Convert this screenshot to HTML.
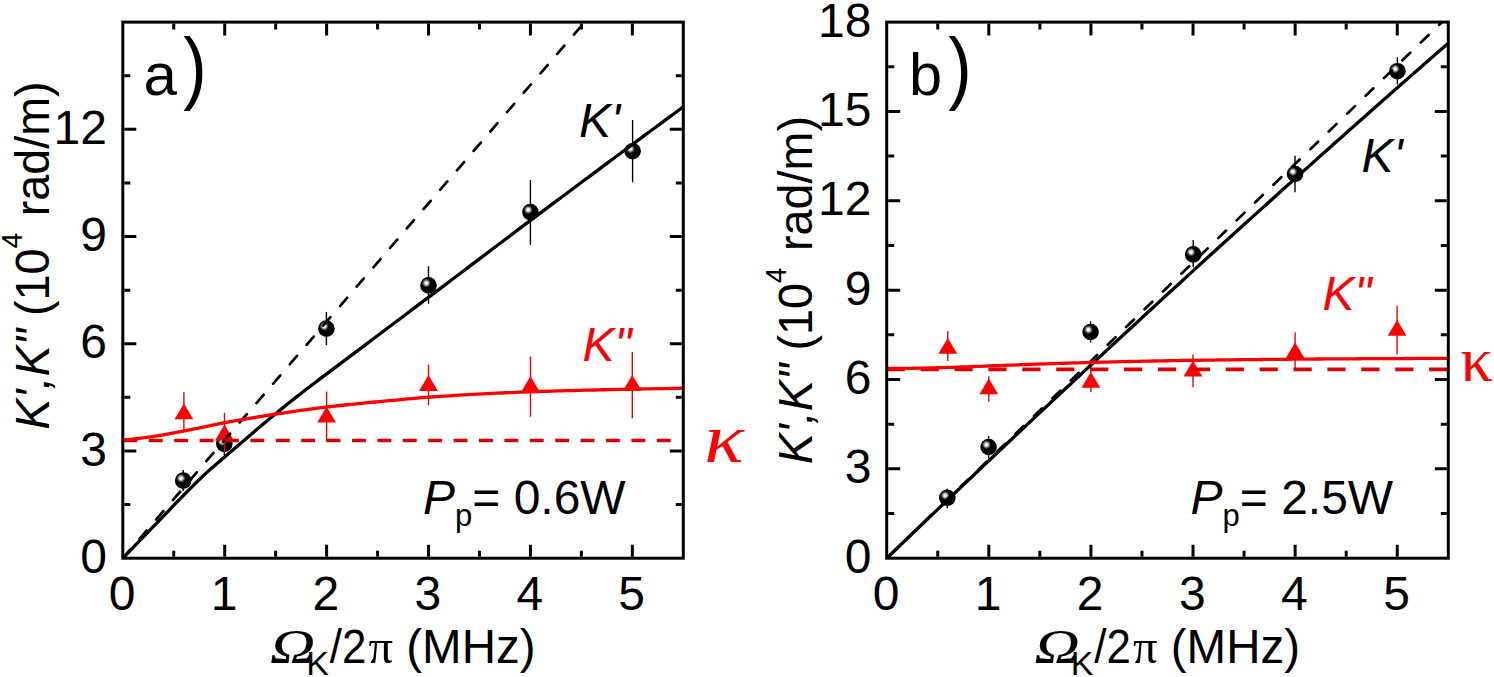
<!DOCTYPE html>
<html lang="en"><head><meta charset="utf-8"><title>K', K'' versus modulation frequency</title>
<style>html,body{margin:0;padding:0;background:#fff}svg{display:block}text{font-family:"Liberation Sans", sans-serif;fill:#000}.it{font-style:italic}.ser{font-family:"Liberation Serif", serif}.red{fill:#ff0000}</style>
</head><body>
<svg width="1494" height="677" viewBox="0 0 1494 677">
<defs><radialGradient id="sph" cx="0.37" cy="0.36" r="0.27"><stop offset="0" stop-color="#ffffff"/><stop offset="0.3" stop-color="#f2f2f2"/><stop offset="0.65" stop-color="#6e6e6e"/><stop offset="1" stop-color="#000000"/></radialGradient><clipPath id="ca"><rect x="122.8" y="22.1" width="560.5" height="536.1"/></clipPath><clipPath id="cb"><rect x="886.7" y="22.1" width="561.6" height="536.1"/></clipPath></defs>
<rect width="1494" height="677" fill="#fff"/>
<g clip-path="url(#ca)">
<path d="M183.2 470.1V491" stroke="#000" stroke-width="1.4" fill="none"/>
<path d="M224.3 433V455" stroke="#000" stroke-width="1.4" fill="none"/>
<path d="M326.4 311.9V345.1" stroke="#000" stroke-width="1.4" fill="none"/>
<path d="M428.5 266.2V303.8" stroke="#000" stroke-width="1.4" fill="none"/>
<path d="M530.4 179.9V245" stroke="#000" stroke-width="1.4" fill="none"/>
<path d="M632.6 120V182.3" stroke="#000" stroke-width="1.4" fill="none"/>
<circle cx="183.2" cy="480.6" r="8.3" fill="url(#sph)"/>
<circle cx="224.3" cy="443.9" r="8.3" fill="url(#sph)"/>
<circle cx="326.4" cy="328.6" r="8.3" fill="url(#sph)"/>
<circle cx="428.5" cy="285.4" r="8.3" fill="url(#sph)"/>
<circle cx="530.4" cy="212.1" r="8.3" fill="url(#sph)"/>
<circle cx="632.6" cy="151.2" r="8.3" fill="url(#sph)"/>
<path d="M183.9 392.3V430.6" stroke="#ea0000" stroke-width="1.4" fill="none"/>
<path d="M224.5 412.9V451.7" stroke="#ea0000" stroke-width="1.4" fill="none"/>
<path d="M326.6 391.6V441.5" stroke="#ea0000" stroke-width="1.4" fill="none"/>
<path d="M428.5 364.5V405.2" stroke="#ea0000" stroke-width="1.4" fill="none"/>
<path d="M530.5 356.4V416.7" stroke="#ea0000" stroke-width="1.4" fill="none"/>
<path d="M632.3 352V418.3" stroke="#ea0000" stroke-width="1.4" fill="none"/>
<path d="M183.9 403.5L193.3 419.3L174.5 419.3Z" fill="#ff0000"/>
<path d="M224.5 424.6L233.9 440.4L215.1 440.4Z" fill="#ff0000"/>
<path d="M326.6 406.7L336 422.5L317.2 422.5Z" fill="#ff0000"/>
<path d="M428.5 375.1L437.9 390.9L419.1 390.9Z" fill="#ff0000"/>
<path d="M530.5 376.3L539.9 392.1L521.1 392.1Z" fill="#ff0000"/>
<path d="M632.3 374.9L641.7 390.7L622.9 390.7Z" fill="#ff0000"/>
<path d="M122.8 558.2L591.58 14.02" stroke="#000" stroke-width="2.7" stroke-dasharray="10.9 14.7" stroke-dashoffset="0" stroke-linecap="round" fill="none"/>
<path d="M122.8 440.5H683.3" stroke="#dc0000" stroke-width="3.3" stroke-dasharray="13.9 11.5" stroke-dashoffset="-0.6" fill="none"/>
<polyline points="122.8,558.2 127.47,553.37 132.14,548.54 136.81,543.7 141.48,538.87 146.15,534.04 150.82,529.21 155.5,524.37 160.17,519.51 164.84,514.64 169.51,509.78 174.18,504.94 178.85,500.13 183.52,495.37 188.19,490.64 192.86,485.92 197.53,481.27 202.2,476.74 206.88,472.41 211.55,468.23 216.22,464.17 220.89,460.16 225.56,456.14 230.23,452.14 234.9,448.18 239.57,444.22 244.24,440.27 248.91,436.29 253.58,432.29 258.25,428.31 262.93,424.35 267.6,420.43 272.27,416.54 276.94,412.68 281.61,408.85 286.28,405.07 290.95,401.32 295.62,397.62 300.29,393.94 304.96,390.31 309.63,386.73 314.3,383.19 318.98,379.69 323.65,376.19 328.32,372.68 332.99,369.16 337.66,365.65 342.33,362.13 347,358.62 351.67,355.1 356.34,351.59 361.01,348.08 365.68,344.57 370.35,341.05 375.02,337.54 379.7,334.03 384.37,330.52 389.04,327.01 393.71,323.5 398.38,319.98 403.05,316.47 407.72,312.96 412.39,309.44 417.06,305.93 421.73,302.41 426.4,298.9 431.07,295.38 435.75,291.86 440.42,288.34 445.09,284.81 449.76,281.29 454.43,277.76 459.1,274.23 463.77,270.7 468.44,267.17 473.11,263.64 477.78,260.12 482.45,256.59 487.12,253.06 491.8,249.53 496.47,246.01 501.14,242.49 505.81,238.97 510.48,235.45 515.15,231.94 519.82,228.42 524.49,224.92 529.16,221.41 533.83,217.91 538.5,214.41 543.17,210.92 547.85,207.42 552.52,203.93 557.19,200.44 561.86,196.95 566.53,193.47 571.2,189.99 575.87,186.5 580.54,183.02 585.21,179.54 589.88,176.07 594.55,172.59 599.22,169.12 603.9,165.64 608.57,162.17 613.24,158.7 617.91,155.23 622.58,151.76 627.25,148.29 631.92,144.82 636.59,141.36 641.26,137.9 645.93,134.44 650.6,130.98 655.27,127.53 659.95,124.07 664.62,120.62 669.29,117.17 673.96,113.71 678.63,110.26 683.3,106.8" fill="none" stroke="#000" stroke-width="3.3" stroke-linejoin="round"/>
<polyline points="122.8,440.26 127.47,439.7 132.14,439.15 136.81,438.6 141.48,438.04 146.15,437.44 150.82,436.79 155.5,436.08 160.17,435.31 164.84,434.51 169.51,433.66 174.18,432.8 178.85,431.92 183.52,431.05 188.19,430.15 192.86,429.22 197.53,428.26 202.2,427.29 206.88,426.31 211.55,425.34 216.22,424.38 220.89,423.47 225.56,422.59 230.23,421.74 234.9,420.9 239.57,420.08 244.24,419.27 248.91,418.47 253.58,417.69 258.25,416.92 262.93,416.16 267.6,415.42 272.27,414.69 276.94,413.97 281.61,413.26 286.28,412.55 290.95,411.86 295.62,411.17 300.29,410.49 304.96,409.83 309.63,409.19 314.3,408.56 318.98,407.96 323.65,407.38 328.32,406.82 332.99,406.28 337.66,405.76 342.33,405.26 347,404.76 351.67,404.28 356.34,403.81 361.01,403.35 365.68,402.89 370.35,402.45 375.02,402.01 379.7,401.57 384.37,401.13 389.04,400.7 393.71,400.27 398.38,399.84 403.05,399.41 407.72,398.97 412.39,398.53 417.06,398.11 421.73,397.71 426.4,397.34 431.07,397.02 435.75,396.7 440.42,396.39 445.09,396.08 449.76,395.79 454.43,395.5 459.1,395.21 463.77,394.93 468.44,394.66 473.11,394.4 477.78,394.15 482.45,393.9 487.12,393.66 491.8,393.42 496.47,393.2 501.14,392.98 505.81,392.77 510.48,392.57 515.15,392.37 519.82,392.19 524.49,392.01 529.16,391.84 533.83,391.68 538.5,391.52 543.17,391.37 547.85,391.23 552.52,391.08 557.19,390.95 561.86,390.82 566.53,390.69 571.2,390.56 575.87,390.44 580.54,390.32 585.21,390.21 589.88,390.1 594.55,389.99 599.22,389.88 603.9,389.77 608.57,389.67 613.24,389.56 617.91,389.46 622.58,389.36 627.25,389.26 631.92,389.16 636.59,389.06 641.26,388.97 645.93,388.87 650.6,388.78 655.27,388.7 659.95,388.61 664.62,388.53 669.29,388.44 673.96,388.36 678.63,388.27 683.3,388.18" fill="none" stroke="#ff0000" stroke-width="3.3" stroke-linejoin="round"/>
</g>
<path d="M224.71 556.7v-12M224.71 23.6v12M326.62 556.7v-12M326.62 23.6v12M428.53 556.7v-12M428.53 23.6v12M530.44 556.7v-12M530.44 23.6v12M632.35 556.7v-12M632.35 23.6v12M173.75 556.7v-6M173.75 23.6v6M275.66 556.7v-6M275.66 23.6v6M377.57 556.7v-6M377.57 23.6v6M479.48 556.7v-6M479.48 23.6v6M581.39 556.7v-6M581.39 23.6v6M124.3 450.98h12M681.8 450.98h-12M124.3 343.76h12M681.8 343.76h-12M124.3 236.54h12M681.8 236.54h-12M124.3 129.32h12M681.8 129.32h-12M124.3 504.59h6M681.8 504.59h-6M124.3 397.37h6M681.8 397.37h-6M124.3 290.15h6M681.8 290.15h-6M124.3 182.93h6M681.8 182.93h-6M124.3 75.71h6M681.8 75.71h-6" fill="none" stroke="#000" stroke-width="3"/>
<rect x="122.8" y="22.1" width="560.5" height="536.1" fill="none" stroke="#000" stroke-width="3"/>
<text x="122.1" y="609.6" font-size="48" text-anchor="middle">0</text>
<text x="224.01" y="609.6" font-size="48" text-anchor="middle">1</text>
<text x="325.92" y="609.6" font-size="48" text-anchor="middle">2</text>
<text x="427.83" y="609.6" font-size="48" text-anchor="middle">3</text>
<text x="529.74" y="609.6" font-size="48" text-anchor="middle">4</text>
<text x="631.65" y="609.6" font-size="48" text-anchor="middle">5</text>
<text x="107" y="572.8" font-size="48" text-anchor="end">0</text>
<text x="107" y="465.58" font-size="48" text-anchor="end">3</text>
<text x="107" y="358.36" font-size="48" text-anchor="end">6</text>
<text x="107" y="251.14" font-size="48" text-anchor="end">9</text>
<text x="107" y="143.92" font-size="48" text-anchor="end">12</text>
<text transform="translate(270 663) scale(1.26 1)" font-size="49.5" class="ser it" stroke="#000" stroke-width="0.15">Ω</text>
<text x="306.2" y="674.8" font-size="34">K</text>
<text x="329.8" y="663" font-size="48" textLength="36.6" lengthAdjust="spacingAndGlyphs">/2</text>
<text x="368.6" y="663" font-size="48.5" class="ser">π</text>
<text x="406.3" y="663" font-size="48" textLength="129.2" lengthAdjust="spacingAndGlyphs">(MHz)</text>
<text transform="translate(49 255.5) rotate(-90) scale(0.973 1)" font-size="48" text-anchor="middle"><tspan class="it">K',K"</tspan><tspan> (10</tspan><tspan font-size="29" dy="-26.6">4</tspan><tspan dy="26.6" dx="3.6"> rad/m)</tspan></text>
<text x="143.6" y="94.6" font-size="60">a</text>
<text transform="translate(183.3 93.8) scale(0.88 1)" font-size="80">)</text>
<text x="579" y="136.5" font-size="48" class="it">K'</text>
<text x="582.5" y="361" font-size="48" class="it red">K"</text>
<text transform="translate(704.2 462) scale(1.18 1)" font-size="70" class="ser it red">κ</text>
<text x="423" y="514" font-size="48"><tspan class="it">P</tspan><tspan font-size="31" dy="12">p</tspan><tspan dy="-12">= 0.6W</tspan></text>
<g clip-path="url(#cb)">
<path d="M947.3 488.7V508.3" stroke="#000" stroke-width="1.4" fill="none"/>
<path d="M988.6 436V458.7" stroke="#000" stroke-width="1.4" fill="none"/>
<path d="M1090.6 321.2V342.7" stroke="#000" stroke-width="1.4" fill="none"/>
<path d="M1193.2 240V267.3" stroke="#000" stroke-width="1.4" fill="none"/>
<path d="M1295 155.7V192.3" stroke="#000" stroke-width="1.4" fill="none"/>
<path d="M1397.4 57.3V84.4" stroke="#000" stroke-width="1.4" fill="none"/>
<circle cx="947.3" cy="497.8" r="8.3" fill="url(#sph)"/>
<circle cx="988.6" cy="447" r="8.3" fill="url(#sph)"/>
<circle cx="1090.6" cy="332" r="8.3" fill="url(#sph)"/>
<circle cx="1193.2" cy="254.4" r="8.3" fill="url(#sph)"/>
<circle cx="1295" cy="174" r="8.3" fill="url(#sph)"/>
<circle cx="1397.4" cy="71.2" r="8.3" fill="url(#sph)"/>
<path d="M947.8 331.2V361" stroke="#ea0000" stroke-width="1.4" fill="none"/>
<path d="M988.8 376.2V401.8" stroke="#ea0000" stroke-width="1.4" fill="none"/>
<path d="M1090.9 367V392.2" stroke="#ea0000" stroke-width="1.4" fill="none"/>
<path d="M1193 354.5V387" stroke="#ea0000" stroke-width="1.4" fill="none"/>
<path d="M1295.1 332.3V368.5" stroke="#ea0000" stroke-width="1.4" fill="none"/>
<path d="M1397.1 305.7V354.5" stroke="#ea0000" stroke-width="1.4" fill="none"/>
<path d="M947.8 337.9L957.2 353.7L938.4 353.7Z" fill="#ff0000"/>
<path d="M988.8 378.4L998.2 394.2L979.4 394.2Z" fill="#ff0000"/>
<path d="M1090.9 371.9L1100.3 387.7L1081.5 387.7Z" fill="#ff0000"/>
<path d="M1193 360.6L1202.4 376.4L1183.6 376.4Z" fill="#ff0000"/>
<path d="M1295.1 342.4L1304.5 358.2L1285.7 358.2Z" fill="#ff0000"/>
<path d="M1397.1 320L1406.5 335.8L1387.7 335.8Z" fill="#ff0000"/>
<path d="M886.7 558.2L1448.3 15.99" stroke="#000" stroke-width="2.7" stroke-dasharray="10.9 14.7" stroke-dashoffset="0" stroke-linecap="round" fill="none"/>
<path d="M886.7 369.37H1448.3" stroke="#dc0000" stroke-width="3.6" stroke-dasharray="18.2 15.7" fill="none"/>
<polyline points="886.7,558.2 891.38,553.7 896.06,549.2 900.74,544.7 905.42,540.21 910.1,535.72 914.78,531.24 919.46,526.75 924.14,522.28 928.82,517.8 933.5,513.33 938.18,508.86 942.86,504.4 947.54,499.94 952.22,495.48 956.9,491.03 961.58,486.58 966.26,482.13 970.94,477.69 975.62,473.25 980.3,468.81 984.98,464.38 989.66,459.95 994.34,455.53 999.02,451.11 1003.7,446.69 1008.38,442.27 1013.06,437.86 1017.74,433.46 1022.42,429.05 1027.1,424.65 1031.78,420.25 1036.46,415.86 1041.14,411.47 1045.82,407.09 1050.5,402.7 1055.18,398.32 1059.86,393.95 1064.54,389.58 1069.22,385.21 1073.9,380.84 1078.58,376.48 1083.26,372.12 1087.94,367.77 1092.62,363.42 1097.3,359.07 1101.98,354.73 1106.66,350.39 1111.34,346.05 1116.02,341.72 1120.7,337.39 1125.38,333.06 1130.06,328.74 1134.74,324.42 1139.42,320.11 1144.1,315.8 1148.78,311.49 1153.46,307.18 1158.14,302.88 1162.82,298.58 1167.5,294.29 1172.18,290 1176.86,285.71 1181.54,281.43 1186.22,277.15 1190.9,272.87 1195.58,268.6 1200.26,264.33 1204.94,260.07 1209.62,255.8 1214.3,251.54 1218.98,247.29 1223.66,243.04 1228.34,238.79 1233.02,234.55 1237.7,230.3 1242.38,226.07 1247.06,221.83 1251.74,217.6 1256.42,213.38 1261.1,209.15 1265.78,204.93 1270.46,200.72 1275.14,196.51 1279.82,192.3 1284.5,188.09 1289.18,183.89 1293.86,179.69 1298.54,175.5 1303.22,171.3 1307.9,167.12 1312.58,162.93 1317.26,158.75 1321.94,154.57 1326.62,150.4 1331.3,146.23 1335.98,142.06 1340.66,137.9 1345.34,133.74 1350.02,129.59 1354.7,125.43 1359.38,121.28 1364.06,117.14 1368.74,113 1373.42,108.86 1378.1,104.72 1382.78,100.59 1387.46,96.47 1392.14,92.34 1396.82,88.22 1401.5,84.1 1406.18,79.99 1410.86,75.88 1415.54,71.77 1420.22,67.67 1424.9,63.57 1429.58,59.48 1434.26,55.38 1438.94,51.3 1443.62,47.21 1448.3,43.13" fill="none" stroke="#000" stroke-width="3.3" stroke-linejoin="round"/>
<polyline points="886.7,368.48 891.38,368.47 896.06,368.45 900.74,368.42 905.42,368.37 910.1,368.31 914.78,368.24 919.46,368.16 924.14,368.06 928.82,367.96 933.5,367.84 938.18,367.71 942.86,367.58 947.54,367.44 952.22,367.29 956.9,367.13 961.58,366.97 966.26,366.81 970.94,366.64 975.62,366.46 980.3,366.29 984.98,366.11 989.66,365.93 994.34,365.75 999.02,365.57 1003.7,365.39 1008.38,365.21 1013.06,365.04 1017.74,364.86 1022.42,364.68 1027.1,364.51 1031.78,364.34 1036.46,364.17 1041.14,364.01 1045.82,363.84 1050.5,363.68 1055.18,363.53 1059.86,363.38 1064.54,363.23 1069.22,363.08 1073.9,362.94 1078.58,362.8 1083.26,362.66 1087.94,362.53 1092.62,362.4 1097.3,362.27 1101.98,362.15 1106.66,362.03 1111.34,361.91 1116.02,361.8 1120.7,361.69 1125.38,361.58 1130.06,361.48 1134.74,361.38 1139.42,361.28 1144.1,361.18 1148.78,361.09 1153.46,361 1158.14,360.91 1162.82,360.83 1167.5,360.74 1172.18,360.66 1176.86,360.58 1181.54,360.51 1186.22,360.44 1190.9,360.36 1195.58,360.29 1200.26,360.23 1204.94,360.16 1209.62,360.1 1214.3,360.03 1218.98,359.97 1223.66,359.92 1228.34,359.86 1233.02,359.8 1237.7,359.75 1242.38,359.7 1247.06,359.65 1251.74,359.6 1256.42,359.55 1261.1,359.5 1265.78,359.45 1270.46,359.41 1275.14,359.37 1279.82,359.32 1284.5,359.28 1289.18,359.24 1293.86,359.2 1298.54,359.17 1303.22,359.13 1307.9,359.09 1312.58,359.06 1317.26,359.02 1321.94,358.99 1326.62,358.96 1331.3,358.93 1335.98,358.9 1340.66,358.87 1345.34,358.84 1350.02,358.81 1354.7,358.78 1359.38,358.75 1364.06,358.72 1368.74,358.7 1373.42,358.67 1378.1,358.65 1382.78,358.62 1387.46,358.6 1392.14,358.58 1396.82,358.55 1401.5,358.53 1406.18,358.51 1410.86,358.49 1415.54,358.47 1420.22,358.45 1424.9,358.43 1429.58,358.41 1434.26,358.39 1438.94,358.37 1443.62,358.35 1448.3,358.34" fill="none" stroke="#ff0000" stroke-width="3.3" stroke-linejoin="round"/>
</g>
<path d="M988.81 556.7v-12M988.81 23.6v12M1090.92 556.7v-12M1090.92 23.6v12M1193.03 556.7v-12M1193.03 23.6v12M1295.14 556.7v-12M1295.14 23.6v12M1397.25 556.7v-12M1397.25 23.6v12M937.75 556.7v-6M937.75 23.6v6M1039.86 556.7v-6M1039.86 23.6v6M1141.97 556.7v-6M1141.97 23.6v6M1244.08 556.7v-6M1244.08 23.6v6M1346.19 556.7v-6M1346.19 23.6v6M888.2 468.85h12M1446.8 468.85h-12M888.2 379.5h12M1446.8 379.5h-12M888.2 290.15h12M1446.8 290.15h-12M888.2 200.8h12M1446.8 200.8h-12M888.2 111.45h12M1446.8 111.45h-12M888.2 513.53h6M1446.8 513.53h-6M888.2 424.18h6M1446.8 424.18h-6M888.2 334.83h6M1446.8 334.83h-6M888.2 245.48h6M1446.8 245.48h-6M888.2 156.12h6M1446.8 156.12h-6M888.2 66.78h6M1446.8 66.78h-6" fill="none" stroke="#000" stroke-width="3"/>
<rect x="886.7" y="22.1" width="561.6" height="536.1" fill="none" stroke="#000" stroke-width="3"/>
<text x="886" y="609.6" font-size="48" text-anchor="middle">0</text>
<text x="988.11" y="609.6" font-size="48" text-anchor="middle">1</text>
<text x="1090.22" y="609.6" font-size="48" text-anchor="middle">2</text>
<text x="1192.33" y="609.6" font-size="48" text-anchor="middle">3</text>
<text x="1294.44" y="609.6" font-size="48" text-anchor="middle">4</text>
<text x="1396.55" y="609.6" font-size="48" text-anchor="middle">5</text>
<text x="871.5" y="572.8" font-size="48" text-anchor="end">0</text>
<text x="871.5" y="483.45" font-size="48" text-anchor="end">3</text>
<text x="871.5" y="394.1" font-size="48" text-anchor="end">6</text>
<text x="871.5" y="304.75" font-size="48" text-anchor="end">9</text>
<text x="871.5" y="215.4" font-size="48" text-anchor="end">12</text>
<text x="871.5" y="126.05" font-size="48" text-anchor="end">15</text>
<text x="871.5" y="36.7" font-size="48" text-anchor="end">18</text>
<text transform="translate(1034.5 663) scale(1.26 1)" font-size="49.5" class="ser it" stroke="#000" stroke-width="0.15">Ω</text>
<text x="1070.7" y="674.8" font-size="34">K</text>
<text x="1094.3" y="663" font-size="48" textLength="36.6" lengthAdjust="spacingAndGlyphs">/2</text>
<text x="1133.1" y="663" font-size="48.5" class="ser">π</text>
<text x="1170.8" y="663" font-size="48" textLength="129.2" lengthAdjust="spacingAndGlyphs">(MHz)</text>
<text transform="translate(812.4 290.2) rotate(-90) scale(0.973 1)" font-size="48" text-anchor="middle"><tspan class="it">K',K"</tspan><tspan> (10</tspan><tspan font-size="29" dy="-26.6">4</tspan><tspan dy="26.6" dx="3.6"> rad/m)</tspan></text>
<text x="909" y="94.6" font-size="59.5">b</text>
<text transform="translate(948.3 93.8) scale(0.88 1)" font-size="80">)</text>
<text x="1361.5" y="172.2" font-size="48" class="it">K'</text>
<text x="1322.5" y="309.5" font-size="48" class="it red">K"</text>
<text transform="translate(1460.4 381) scale(1 1)" font-size="64" class="ser red">κ</text>
<text x="1190.5" y="514" font-size="48"><tspan class="it">P</tspan><tspan font-size="31" dy="12">p</tspan><tspan dy="-12">= 2.5W</tspan></text>
</svg></body></html>
